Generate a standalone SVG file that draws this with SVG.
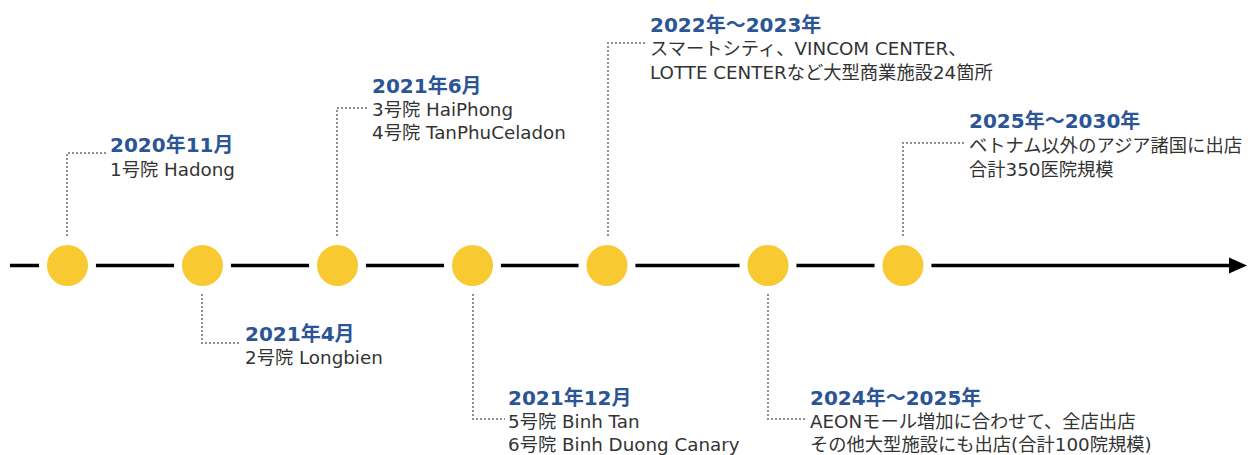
<svg xmlns="http://www.w3.org/2000/svg" width="1254" height="455" viewBox="0 0 1254 455">
<style>
.t{font-family:"DejaVu Sans","Noto Sans CJK JP",sans-serif;font-size:20px;font-weight:bold;fill:#2C5596}
.b{font-family:"DejaVu Sans","Noto Sans CJK JP",sans-serif;font-size:18.3px;fill:#333}
.c{fill:none;stroke:#8f8f8f;stroke-width:2;stroke-dasharray:2 2}
.dot{fill:#F9C932;stroke:#fff;stroke-width:8}
</style>
<rect width="1254" height="455" fill="#fff"/>
<g id="connectors">
<line x1="10" y1="265.5" x2="1232" y2="265.5" stroke="#000" stroke-width="3.5"/>
<polygon points="1229,257.5 1247,265.5 1229,273.5" fill="#000"/>
<path class="c" d="M67,240 V153 H107"/>
<path class="c" d="M202,290 V343 H240"/>
<path class="c" d="M337,240 V108 H368"/>
<path class="c" d="M473,290 V419 H505"/>
<path class="c" d="M608,240 V43 H647"/>
<path class="c" d="M768,290 V419 H805"/>
<path class="c" d="M903,240 V143 H965"/>
</g>
<g id="n1"><circle class="dot" cx="67.5" cy="265.5" r="24.5"/>
<text class="t" x="110" y="152">2020年11月</text>
<text class="b" x="110" y="176">1号院 Hadong</text></g>
<g id="n2"><circle class="dot" cx="202.5" cy="265.5" r="24.5"/>
<text class="t" x="245" y="341">2021年4月</text>
<text class="b" x="245" y="364">2号院 Longbien</text></g>
<g id="n3"><circle class="dot" cx="337.5" cy="265.5" r="24.5"/>
<text class="t" x="372" y="93">2021年6月</text>
<text class="b" x="372" y="116">3号院 HaiPhong</text>
<text class="b" x="372" y="139">4号院 TanPhuCeladon</text></g>
<g id="n4"><circle class="dot" cx="472.5" cy="265.5" r="24.5"/>
<text class="t" x="508" y="405">2021年12月</text>
<text class="b" x="508" y="428">5号院 Binh Tan</text>
<text class="b" x="508" y="451">6号院 Binh Duong Canary</text></g>
<g id="n5"><circle class="dot" cx="607" cy="265.5" r="24.5"/>
<text class="t" x="650" y="32">2022年〜2023年</text>
<text class="b" x="650" y="55">スマートシティ、VINCOM CENTER、</text>
<text class="b" x="650" y="79">LOTTE CENTERなど大型商業施設24箇所</text></g>
<g id="n6"><circle class="dot" cx="768" cy="265.5" r="24.5"/>
<text class="t" x="810" y="405">2024年〜2025年</text>
<text class="b" x="810" y="428">AEONモール増加に合わせて、全店出店</text>
<text class="b" x="810" y="451">その他大型施設にも出店(合計100院規模)</text></g>
<g id="n7"><circle class="dot" cx="903" cy="265.5" r="24.5"/>
<text class="t" x="969" y="128">2025年〜2030年</text>
<text class="b" x="969" y="152">ベトナム以外のアジア諸国に出店</text>
<text class="b" x="969" y="176">合計350医院規模</text></g>
</svg>
